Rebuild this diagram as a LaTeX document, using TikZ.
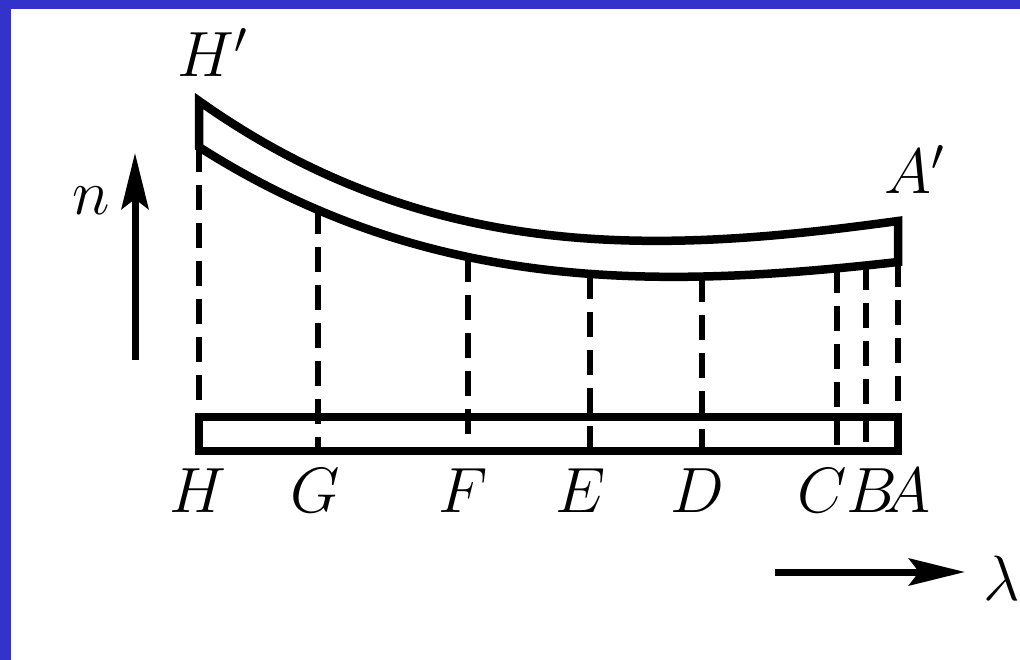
\RequirePackage{fix-cm}
\documentclass[tikz,border=0pt]{standalone}
\usetikzlibrary{arrows.meta}
\definecolor{frameblue}{RGB}{51,51,204}
\begin{document}
\begin{tikzpicture}[x=1pt,y=-1pt,
  thickline/.style={line width=8.5pt,line join=miter},
  dashline/.style={line width=5.5pt,dash pattern=on 25pt off 13pt},
  axisarrow/.style={line width=7pt,-{Stealth[length=56pt,width=27pt,inset=10pt]}},
  lbl/.style={inner sep=0pt,anchor=base,font=\fontsize{64}{70}\selectfont}]
\useasboundingbox (0,0) rectangle (1020,660);
\fill[white] (0,0) rectangle (1020,660);
\fill[frameblue] (0,0) rectangle (1020,9);
\fill[frameblue] (0,0) rectangle (11,660);

% dashed verticals
\foreach \nm/\xx/\yy in {H/199/147,G/318/209,F/468/257,E/590/274,D/702/277,C/837/268,B/866/265,A/898/262}{
  \coordinate (t\nm) at (\xx,\yy);
  \coordinate (b\nm) at (\xx,451);
  \draw[dashline] (t\nm) -- (b\nm);
}

% curved band
\coordinate (Hp) at (199,101);
\coordinate (Ap) at (898,221);
\draw[thickline] (Hp) .. controls (432,266.2) and (665,253) .. (Ap)
  -- (tA) .. controls (665.3,288) and (432.7,295.8) .. (tH) -- cycle;

% bottom bar
\coordinate (barL) at (199,417);
\coordinate (barR) at (898,451);
\draw[thickline] (barL) rectangle (barR);

% labels
\node[lbl] (lH) at (198,512) {$H$};
\node[lbl] (lG) at (315,512) {$G$};
\node[lbl] (lF) at (463,512) {$F$};
\node[lbl] (lE) at (581,512) {$E$};
\node[lbl] (lD) at (697,512) {$D$};
\node[lbl] (lC) at (822,512) {$C$};
\node[lbl] (lB) at (872,512) {$B$};
\node[lbl] (lA) at (907,512) {$A$};
\node[lbl] (lHp) at (212,77) {$H'$};
\node[lbl] (lAp) at (914,194) {$A'$};
\node[lbl] (ln) at (91,215) {$n$};
\node[lbl] (llam) at (1002,600) {$\lambda$};

% axis arrows
\coordinate (nS) at (135,360);
\coordinate (nE) at (135,153);
\draw[axisarrow] (nS) -- (nE);
\coordinate (lS) at (775,572);
\coordinate (lE) at (965,572);
\draw[axisarrow] (lS) -- (lE);
\end{tikzpicture}
\end{document}
